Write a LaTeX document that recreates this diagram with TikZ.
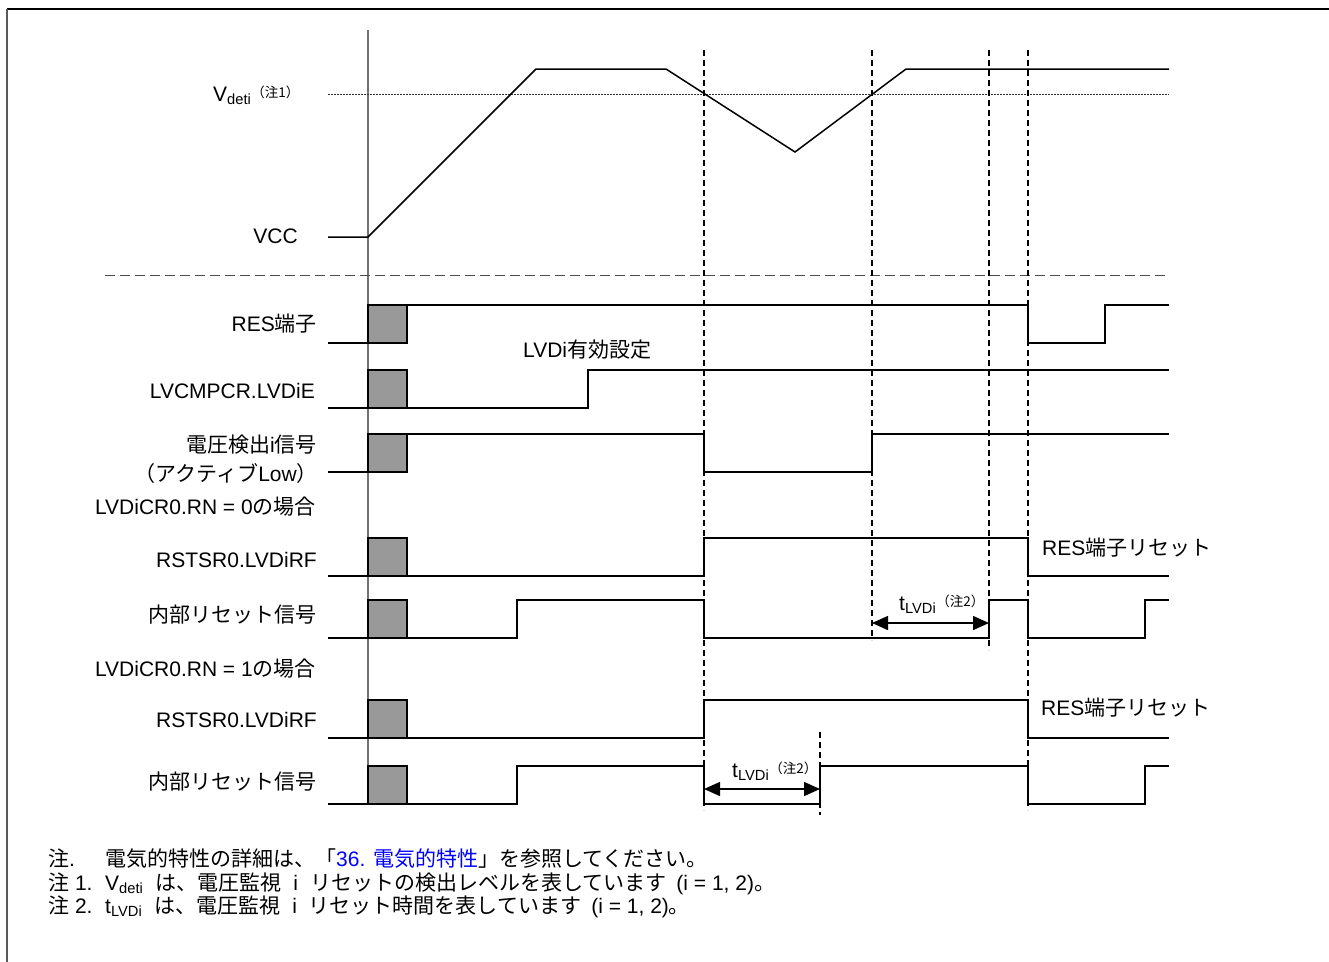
\documentclass[tikz,border=0pt]{standalone}
\usepackage{fontspec}
\setmainfont{Liberation Sans}
\newfontfamily\jpfont{Noto Sans CJK JP}
\usepackage{xcolor}
\usetikzlibrary{arrows.meta}
\pgfdeclarelayer{gridlayer}
\pgfsetlayers{gridlayer,main}

\newcommand{\jp}[1]{{\jpfont #1}}
\newcommand{\sub}[1]{\textsubscript{#1}}
\newcommand{\chu}[1]{\raisebox{4pt}{\fontsize{13.5}{14}\selectfont\jpfont （注#1）}}
\newcommand{\gap}{\hspace{12pt}}

\definecolor{boxgray}{HTML}{999999}
\definecolor{linkblue}{HTML}{0000FF}

\tikzset{
  wave/.style={line width=1.5pt, line join=miter},
  tmark/.style={line width=1.5pt, dash pattern=on 6pt off 4pt},
  unknown/.style={draw, line width=1.5pt, fill=boxgray},
  lbl/.style={anchor=base east, inner sep=0pt},
  txt/.style={anchor=base west, inner sep=0pt},
  dim/.style={line width=1.5pt, {Triangle[length=16pt,width=14pt]}-{Triangle[length=16pt,width=14pt]}}
}

\begin{document}
\begin{tikzpicture}[x=1pt, y=-1pt, font=\fontsize{21}{24}\selectfont]
  \useasboundingbox (0,0) rectangle (1329,961);

  % frame
  \draw [line width=1.5pt] (7,9) -- (1400,9);
  \draw [line width=1.5pt, black!65] (7,9) -- (7,1000);

  \begin{pgfonlayer}{gridlayer}
    % start of sequence
    \draw [line width=1.5pt, black!55] (368,30) -- (368,805);
    % detection levels and time marks
    \draw [line width=1pt, black!80, dash pattern=on 1.5pt off 1.5pt] (328,94) -- (1169,94);
    \draw [line width=1pt, black!70, dash pattern=on 10pt off 5pt] (105,275) -- (1169,275);
    \draw [tmark] (704,50) -- (704,810);
    \draw [tmark] (872,50) -- (872,640);
    \draw [tmark] (989,50) -- (989,650);
    \draw [tmark] (1028,50) -- (1028,810);
    \draw [tmark] (820,732) -- (820,815);
  \end{pgfonlayer}

  % labels
  \node [txt] (vdet) at (213,101) {V\sub{deti}\chu{1}};
  \node [lbl] (vcc) at (298,243) {VCC};
  \node [lbl] (res) at (317,331) {RES\jp{端子}};
  \node [lbl] (lvdie) at (315,398) {LVCMPCR.LVDiE};
  \node [lbl] (det) at (317,452) {\jp{電圧検出}i\jp{信号}};
  \node [lbl] (detlow) at (318,481) {\jp{（アクティブ}Low\jp{）}};
  \node [lbl] (rn0) at (316,514) {LVDiCR0.RN = 0\jp{の場合}};
  \node [lbl] (rf0) at (317,567) {RSTSR0.LVDiRF};
  \node [lbl] (int0) at (317,622) {\jp{内部リセット信号}};
  \node [lbl] (rn1) at (316,676) {LVDiCR0.RN = 1\jp{の場合}};
  \node [lbl] (rf1) at (317,727) {RSTSR0.LVDiRF};
  \node [lbl] (int1) at (317,789) {\jp{内部リセット信号}};
  \node [txt] (enable) at (523,357) {LVDi\jp{有効設定}};
  \node [txt] (resrst0) at (1042,555) {RES\jp{端子リセット}};
  \node [txt] (resrst1) at (1041,715) {RES\jp{端子リセット}};
  \node [txt] (tlvd0) at (899,610) {t\sub{LVDi}\chu{2}};
  \node [txt] (tlvd1) at (732,777) {t\sub{LVDi}\chu{2}};

  % undefined state after power on
  \foreach \hi in {305,370,434,538,600,700,766}
    \draw [unknown] (368,\hi) rectangle (407,\hi+38);

  % waveforms
  \draw [wave] (328,237) -- (368,237) -- (536,69) -- (666,69) -- (795,152) -- (906,69) -- (1169,69);
  \draw [wave] (328,343) -- (368,343);
  \draw [wave] (407,305) -- (1028,305) -- (1028,343) -- (1105,343) -- (1105,305) -- (1169,305);
  \draw [wave] (328,408) -- (368,408);
  \draw [wave] (407,408) -- (588,408) -- (588,370) -- (1169,370);
  \draw [wave] (328,472) -- (368,472);
  \draw [wave] (407,434) -- (704,434) -- (704,472) -- (872,472) -- (872,434) -- (1169,434);
  \draw [wave] (328,576) -- (368,576);
  \draw [wave] (407,576) -- (704,576) -- (704,538) -- (1028,538) -- (1028,576) -- (1169,576);
  \draw [wave] (328,638) -- (368,638);
  \draw [wave] (407,638) -- (517,638) -- (517,600) -- (704,600) -- (704,638) -- (989,638)
    -- (989,600) -- (1028,600) -- (1028,638) -- (1145,638) -- (1145,600) -- (1169,600);
  \draw [wave] (328,738) -- (368,738);
  \draw [wave] (407,738) -- (704,738) -- (704,700) -- (1028,700) -- (1028,738) -- (1169,738);
  \draw [wave] (328,804) -- (368,804);
  \draw [wave] (407,804) -- (517,804) -- (517,766) -- (704,766) -- (704,804) -- (820,804)
    -- (820,766) -- (1028,766) -- (1028,804) -- (1145,804) -- (1145,766) -- (1169,766);

  % reset times
  \coordinate (t0a) at (872,623);
  \coordinate (t0b) at (989,623);
  \coordinate (t1a) at (704,789);
  \coordinate (t1b) at (820,789);
  \draw [dim] (t0a) -- (t0b);
  \draw [dim] (t1a) -- (t1b);

  % notes
  \node [txt] (n0) at (48,866) {\jp{注}.};
  \node [txt] (n0t) at (105,866) {\jp{電気的特性の詳細は、「}\textcolor{linkblue}{36. \jp{電気的特性}}\jp{」を参照してください。}};
  \node [txt] (n1) at (48,890) {\jp{注} 1.};
  \node [txt] (n1t) at (105,890) {V\sub{deti}\gap\jp{は、電圧監視}\gap i\gap\jp{リセットの検出レベルを表しています}\hspace{10pt}(i = 1, 2)\jp{。}};
  \node [txt] (n2) at (48,913) {\jp{注} 2.};
  \node [txt] (n2t) at (105,913) {t\sub{LVDi}\gap\jp{は、電圧監視}\gap i\gap\jp{リセット時間を表しています}\hspace{10pt}(i = 1, 2)\jp{。}};
\end{tikzpicture}
\end{document}
